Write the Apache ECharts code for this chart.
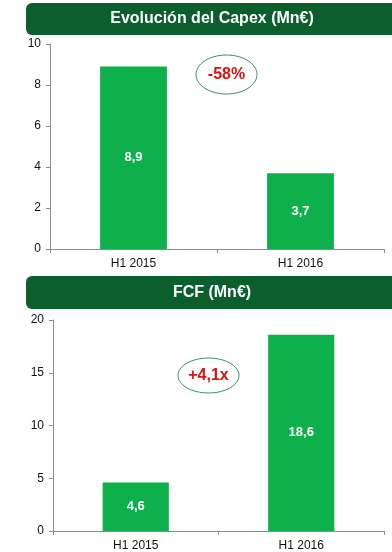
<!DOCTYPE html>
<html><head><meta charset="utf-8">
<script src="https://cdn.jsdelivr.net/npm/echarts@6/dist/echarts.min.js"></script>
<style>html,body{margin:0;padding:0;background:#fff}#c{width:392px;height:552px}</style>
</head><body><div id="c"></div>
<script>
const categories = ['H1 2015', 'H1 2016'];
const capexValues = [8.9, 3.7];
const fcfValues = [4.6, 18.6];
const capexTitle = 'Evolución del Capex (Mn€)';
const fcfTitle = 'FCF (Mn€)';
const capexBadge = '-58%';
const fcfBadge = '+4,1x';

const FONT = '"Liberation Sans", Arial, sans-serif';
const BAR = '#0db04b';
const HEAD = '#0b5f2c';
const chart = echarts.init(document.getElementById('c'), null, {renderer: 'canvas'});

function yAxis(grid, max, interval) {
  return {
    type: 'value', gridIndex: grid, min: 0, max: max, interval: interval,
    axisLine: {show: true, lineStyle: {color: '#8c8c8c', width: 1}},
    axisTick: {show: true, length: 4, lineStyle: {color: '#8c8c8c'}},
    splitLine: {show: false},
    axisLabel: {color: '#111', fontFamily: FONT, fontSize: 12, margin: 9}
  };
}
function xAxis(grid) {
  return {
    type: 'category', gridIndex: grid, data: categories,
    axisLine: {show: true, lineStyle: {color: '#8c8c8c', width: 1}},
    axisTick: {show: true, length: 4, lineStyle: {color: '#8c8c8c'}},
    axisLabel: {color: '#111', fontFamily: FONT, fontSize: 12, margin: 9}
  };
}
function barSeries(idx, data) {
  return {
    type: 'bar', xAxisIndex: idx, yAxisIndex: idx, data: data, barWidth: '40%',
    itemStyle: {color: BAR},
    label: {show: true, position: 'inside', color: '#fff', fontFamily: FONT, fontWeight: 'bold', fontSize: 13,
      formatter: p => String(p.value).replace('.', ',')}
  };
}
function header(y, h, text) {
  return {
    type: 'group', children: [
      {type: 'rect', shape: {x: 26, y: y, width: 380, height: h, r: 6}, style: {fill: HEAD}},
      {type: 'text', x: 212, y: y + h / 2, style: {text: text, fill: '#fff', font: 'bold 16px ' + FONT, align: 'center', verticalAlign: 'middle'}}
    ]
  };
}
function badge(cx, cy, rx, ry, text) {
  return {
    type: 'group', children: [
      {type: 'ellipse', shape: {cx: cx, cy: cy, rx: rx, ry: ry}, style: {fill: '#fff', stroke: '#2f8f5a', lineWidth: 1}},
      {type: 'text', x: cx, y: cy, style: {text: text, fill: '#e01010', font: 'bold 16px ' + FONT, align: 'center', verticalAlign: 'middle'}}
    ]
  };
}

chart.setOption({
  animation: false,
  grid: [
    {left: 50, right: 8, top: 44, bottom: 303},
    {left: 53, right: 8, top: 320, bottom: 17}
  ],
  xAxis: [xAxis(0), xAxis(1)],
  yAxis: [yAxis(0, 10, 2), yAxis(1, 20, 5)],
  series: [barSeries(0, capexValues), barSeries(1, fcfValues)],
  graphic: [
    header(3, 32, capexTitle),
    header(276, 33, fcfTitle),
    badge(226.5, 74.5, 30.5, 19.5, capexBadge),
    badge(208.5, 375.5, 30.5, 17.5, fcfBadge)
  ]
});
</script></body></html>
